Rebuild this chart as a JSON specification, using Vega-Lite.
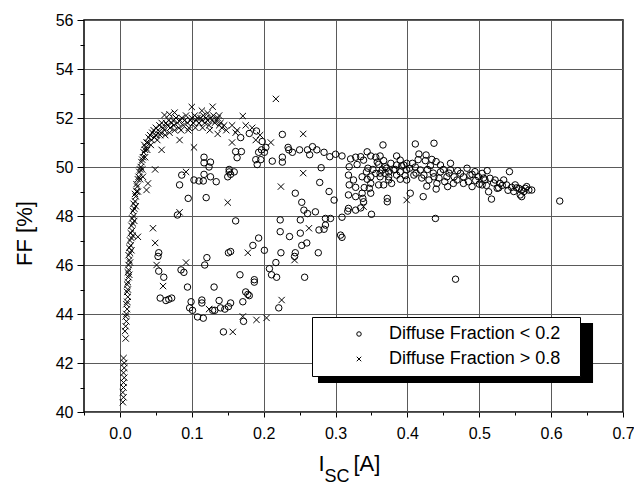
{
"$schema": "https://vega.github.io/schema/vega-lite/v6.json",
"width": 539, "height": 392,
"autosize": {"type": "none"},
"padding": {"left": 84, "top": 20, "right": 11, "bottom": 72},
"background": "white",
"config": {
  "view": {"stroke": "black", "strokeWidth": 1.5},
  "font": "Liberation Sans",
  "axis": {"labelFont": "Liberation Sans", "titleFont": "Liberation Sans", "labelColor": "black", "titleColor": "black", "tickColor": "black", "titleFontWeight": "normal"},
  "legend": {"strokeWidth": 1}
},
"datasets": {
"crosses": [
{"x":0.004,"y":40.4},{"x":0.005,"y":40.6},{"x":0.004,"y":40.8},{"x":0.005,"y":41.0},{"x":0.005,"y":41.2},{"x":0.006,"y":41.4},{"x":0.005,"y":41.6},{"x":0.006,"y":41.8},{"x":0.006,"y":42.0},{"x":0.005,"y":42.2},
{"x":0.008,"y":43.0},{"x":0.007,"y":43.3},{"x":0.008,"y":43.5},{"x":0.009,"y":43.7},{"x":0.008,"y":43.9},{"x":0.009,"y":44.0},{"x":0.010,"y":44.2},{"x":0.009,"y":44.4},{"x":0.010,"y":44.5},{"x":0.011,"y":44.7},
{"x":0.010,"y":44.9},{"x":0.011,"y":45.0},{"x":0.010,"y":45.2},{"x":0.011,"y":45.3},{"x":0.012,"y":45.5},{"x":0.011,"y":45.7},{"x":0.012,"y":45.8},{"x":0.012,"y":46.0},{"x":0.013,"y":46.2},{"x":0.012,"y":46.4},
{"x":0.014,"y":46.5},{"x":0.013,"y":46.7},{"x":0.015,"y":46.8},{"x":0.014,"y":47.0},{"x":0.016,"y":47.1},{"x":0.015,"y":47.3},{"x":0.017,"y":47.4},{"x":0.016,"y":47.6},{"x":0.018,"y":47.7},{"x":0.017,"y":47.9},
{"x":0.019,"y":48.0},{"x":0.018,"y":48.2},{"x":0.020,"y":48.3},{"x":0.019,"y":48.5},{"x":0.021,"y":48.6},{"x":0.022,"y":48.8},{"x":0.021,"y":48.9},{"x":0.023,"y":49.0},{"x":0.024,"y":49.2},{"x":0.023,"y":49.3},
{"x":0.025,"y":49.5},{"x":0.026,"y":49.6},{"x":0.027,"y":49.8},{"x":0.028,"y":49.9},{"x":0.029,"y":50.0},{"x":0.030,"y":50.2},{"x":0.031,"y":50.3},{"x":0.032,"y":50.4},{"x":0.033,"y":50.6},{"x":0.035,"y":50.7},
{"x":0.034,"y":50.9},{"x":0.037,"y":51.0},{"x":0.039,"y":51.0},{"x":0.036,"y":50.8},{"x":0.040,"y":51.2},{"x":0.042,"y":51.3},{"x":0.044,"y":51.1},{"x":0.045,"y":51.4},{"x":0.047,"y":51.5},{"x":0.050,"y":51.3},
{"x":0.050,"y":51.6},{"x":0.053,"y":51.5},{"x":0.055,"y":51.7},{"x":0.057,"y":51.4},{"x":0.058,"y":51.8},{"x":0.060,"y":51.6},{"x":0.062,"y":51.5},{"x":0.064,"y":51.8},{"x":0.066,"y":51.7},{"x":0.068,"y":51.9},
{"x":0.070,"y":51.6},{"x":0.072,"y":51.8},{"x":0.074,"y":51.9},{"x":0.075,"y":51.7},{"x":0.078,"y":52.0},{"x":0.080,"y":51.8},{"x":0.082,"y":51.6},{"x":0.084,"y":51.9},{"x":0.086,"y":52.0},{"x":0.088,"y":51.7},
{"x":0.090,"y":51.9},{"x":0.092,"y":52.1},{"x":0.094,"y":51.8},{"x":0.096,"y":51.6},{"x":0.098,"y":51.9},{"x":0.100,"y":52.0},{"x":0.102,"y":51.8},{"x":0.104,"y":52.1},{"x":0.106,"y":51.9},{"x":0.108,"y":52.0},
{"x":0.110,"y":51.8},{"x":0.112,"y":52.0},{"x":0.114,"y":51.9},{"x":0.116,"y":52.1},{"x":0.118,"y":51.8},{"x":0.120,"y":52.0},{"x":0.122,"y":51.9},{"x":0.124,"y":51.7},{"x":0.126,"y":52.0},{"x":0.128,"y":51.9},
{"x":0.130,"y":52.1},{"x":0.132,"y":51.8},{"x":0.134,"y":51.9},{"x":0.136,"y":52.0},{"x":0.138,"y":51.7},{"x":0.140,"y":51.8},{"x":0.142,"y":51.6},{"x":0.145,"y":51.7},{"x":0.148,"y":51.5},
{"x":0.013,"y":45.6},{"x":0.014,"y":46.1},{"x":0.016,"y":46.6},{"x":0.018,"y":47.2},{"x":0.020,"y":47.8},{"x":0.022,"y":48.4},{"x":0.025,"y":49.0},{"x":0.028,"y":49.5},{"x":0.031,"y":49.9},{"x":0.035,"y":50.4},
{"x":0.038,"y":50.7},{"x":0.043,"y":50.9},{"x":0.048,"y":51.2},{"x":0.052,"y":51.1},{"x":0.056,"y":51.3},{"x":0.063,"y":51.3},{"x":0.069,"y":51.4},{"x":0.076,"y":51.5},{"x":0.085,"y":51.5},{"x":0.095,"y":51.5},
{"x":0.105,"y":51.6},{"x":0.115,"y":51.6},{"x":0.125,"y":51.5},
{"x":0.062,"y":52.12},{"x":0.069,"y":52.15},{"x":0.076,"y":52.22},{"x":0.100,"y":52.45},{"x":0.114,"y":52.3},{"x":0.122,"y":52.2},{"x":0.129,"y":52.46},{"x":0.138,"y":52.1},{"x":0.171,"y":52.08},{"x":0.156,"y":51.7},
{"x":0.163,"y":51.5},{"x":0.161,"y":51.4},{"x":0.136,"y":51.35},{"x":0.156,"y":51.0},{"x":0.175,"y":51.7},{"x":0.184,"y":51.6},{"x":0.195,"y":51.3},{"x":0.189,"y":51.1},{"x":0.210,"y":51.0},{"x":0.255,"y":51.35},
{"x":0.217,"y":52.78},{"x":0.103,"y":50.8},{"x":0.092,"y":49.8},{"x":0.255,"y":49.75},{"x":0.224,"y":49.2},{"x":0.150,"y":48.55},{"x":0.049,"y":49.9},{"x":0.083,"y":51.1},{"x":0.058,"y":50.7},{"x":0.083,"y":48.15},
{"x":0.046,"y":47.5},{"x":0.049,"y":46.9},{"x":0.025,"y":47.15},{"x":0.037,"y":49.06},{"x":0.039,"y":49.33},{"x":0.032,"y":49.6},{"x":0.051,"y":46.0},{"x":0.060,"y":45.14},{"x":0.092,"y":46.1},{"x":0.124,"y":44.2},
{"x":0.157,"y":43.27},{"x":0.171,"y":43.9},{"x":0.178,"y":46.5},{"x":0.190,"y":43.76},{"x":0.204,"y":43.84},{"x":0.225,"y":44.57},{"x":0.243,"y":46.2},{"x":0.399,"y":48.65},{"x":0.263,"y":47.5},{"x":0.339,"y":48.38}
],
"circles": [
{"x":0.054,"y":46.5},{"x":0.053,"y":46.35},{"x":0.054,"y":45.75},{"x":0.061,"y":45.5},{"x":0.056,"y":44.65},{"x":0.064,"y":44.55},{"x":0.068,"y":44.6},{"x":0.072,"y":44.65},{"x":0.085,"y":45.8},{"x":0.089,"y":45.7},
{"x":0.094,"y":45.1},{"x":0.099,"y":44.5},{"x":0.097,"y":44.25},{"x":0.101,"y":44.15},{"x":0.108,"y":43.88},{"x":0.114,"y":44.57},{"x":0.114,"y":44.45},{"x":0.116,"y":43.83},{"x":0.118,"y":46.0},{"x":0.121,"y":46.3},
{"x":0.131,"y":45.1},{"x":0.129,"y":44.15},{"x":0.132,"y":44.15},{"x":0.138,"y":44.55},{"x":0.140,"y":44.25},{"x":0.144,"y":43.27},{"x":0.146,"y":44.2},{"x":0.151,"y":44.3},{"x":0.154,"y":44.45},{"x":0.151,"y":46.5},
{"x":0.154,"y":46.55},{"x":0.167,"y":45.6},{"x":0.171,"y":44.5},{"x":0.175,"y":44.9},{"x":0.178,"y":44.8},{"x":0.180,"y":44.75},{"x":0.172,"y":43.7},{"x":0.185,"y":46.8},{"x":0.187,"y":45.4},{"x":0.187,"y":45.3},
{"x":0.201,"y":46.6},{"x":0.208,"y":45.85},{"x":0.211,"y":45.6},{"x":0.217,"y":46.1},{"x":0.218,"y":45.5},{"x":0.221,"y":44.25},{"x":0.224,"y":46.5},{"x":0.244,"y":46.5},{"x":0.243,"y":46.35},{"x":0.253,"y":46.8},
{"x":0.257,"y":45.5},{"x":0.260,"y":46.9},{"x":0.276,"y":46.5},{"x":0.161,"y":47.8},{"x":0.223,"y":47.84},{"x":0.223,"y":47.36},{"x":0.236,"y":47.16},{"x":0.251,"y":47.3},{"x":0.193,"y":47.1},{"x":0.086,"y":49.67},
{"x":0.083,"y":49.27},{"x":0.095,"y":48.72},{"x":0.080,"y":48.04},
{"x":0.190,"y":51.47},{"x":0.180,"y":51.37},{"x":0.168,"y":51.2},{"x":0.226,"y":51.33},{"x":0.198,"y":51.04},{"x":0.203,"y":50.8},{"x":0.197,"y":50.7},{"x":0.193,"y":50.6},{"x":0.201,"y":50.6},{"x":0.189,"y":50.3},
{"x":0.196,"y":50.3},{"x":0.191,"y":50.1},{"x":0.161,"y":50.63},{"x":0.169,"y":50.63},{"x":0.163,"y":50.38},{"x":0.212,"y":50.24},{"x":0.226,"y":50.4},{"x":0.226,"y":50.2},{"x":0.234,"y":50.8},{"x":0.235,"y":50.7},
{"x":0.240,"y":50.6},{"x":0.250,"y":50.7},{"x":0.117,"y":50.4},{"x":0.126,"y":50.2},{"x":0.117,"y":50.17},{"x":0.124,"y":50.0},{"x":0.152,"y":49.9},{"x":0.152,"y":49.8},{"x":0.159,"y":49.8},{"x":0.150,"y":49.6},
{"x":0.154,"y":49.7},{"x":0.117,"y":49.7},{"x":0.126,"y":49.6},{"x":0.103,"y":49.47},{"x":0.110,"y":49.43},{"x":0.116,"y":49.43},{"x":0.134,"y":49.4},{"x":0.120,"y":48.75},{"x":0.244,"y":48.93},{"x":0.253,"y":48.56},
{"x":0.256,"y":48.24},
{"x":0.366,"y":50.9},{"x":0.411,"y":50.94},{"x":0.437,"y":50.97},{"x":0.268,"y":50.83},{"x":0.274,"y":50.7},{"x":0.261,"y":50.7},{"x":0.264,"y":50.5},{"x":0.284,"y":50.6},{"x":0.292,"y":50.42},{"x":0.300,"y":50.52},
{"x":0.309,"y":50.45},{"x":0.321,"y":50.33},{"x":0.328,"y":50.4},{"x":0.335,"y":50.42},{"x":0.339,"y":50.28},{"x":0.344,"y":50.62},{"x":0.349,"y":50.45},{"x":0.356,"y":50.4},{"x":0.362,"y":50.45},{"x":0.367,"y":50.26},
{"x":0.385,"y":50.45},{"x":0.390,"y":50.28},{"x":0.395,"y":50.08},{"x":0.416,"y":50.53},{"x":0.426,"y":50.49},{"x":0.425,"y":50.26},{"x":0.434,"y":50.31},{"x":0.440,"y":50.22},{"x":0.446,"y":50.08},{"x":0.460,"y":50.15},
{"x":0.407,"y":50.15},{"x":0.411,"y":50.0},{"x":0.399,"y":49.88},{"x":0.390,"y":49.8},{"x":0.381,"y":49.88},{"x":0.369,"y":49.74},{"x":0.374,"y":49.6},{"x":0.385,"y":49.67},{"x":0.390,"y":49.5},{"x":0.399,"y":49.47},
{"x":0.409,"y":49.67},{"x":0.418,"y":49.88},{"x":0.423,"y":49.67},{"x":0.430,"y":49.47},{"x":0.437,"y":49.6},{"x":0.446,"y":49.8},{"x":0.455,"y":49.6},{"x":0.464,"y":49.33},{"x":0.427,"y":49.22},{"x":0.441,"y":49.33},
{"x":0.360,"y":50.11},{"x":0.369,"y":50.01},{"x":0.374,"y":49.8},{"x":0.365,"y":49.88},{"x":0.385,"y":50.08},{"x":0.399,"y":50.15},{"x":0.362,"y":49.6},{"x":0.356,"y":49.74},{"x":0.344,"y":49.5},{"x":0.337,"y":49.6},
{"x":0.349,"y":49.6},{"x":0.360,"y":49.27},{"x":0.367,"y":49.27},{"x":0.374,"y":49.47},{"x":0.378,"y":49.33},{"x":0.349,"y":49.33},{"x":0.325,"y":49.47},{"x":0.318,"y":49.67},{"x":0.319,"y":49.27},{"x":0.328,"y":49.17},
{"x":0.340,"y":49.16},{"x":0.347,"y":49.13},{"x":0.349,"y":48.93},{"x":0.337,"y":48.93},{"x":0.328,"y":48.79},{"x":0.338,"y":48.72},{"x":0.339,"y":48.58},{"x":0.318,"y":48.86},{"x":0.318,"y":48.31},{"x":0.317,"y":48.2},
{"x":0.328,"y":48.24},{"x":0.335,"y":48.33},{"x":0.350,"y":48.07},{"x":0.372,"y":48.72},{"x":0.372,"y":48.58},{"x":0.404,"y":48.93},{"x":0.422,"y":48.79},{"x":0.439,"y":47.9},{"x":0.319,"y":50.01},{"x":0.343,"y":49.8},
{"x":0.280,"y":49.97},{"x":0.278,"y":49.37},{"x":0.291,"y":49.0},{"x":0.298,"y":48.65},{"x":0.309,"y":47.95},{"x":0.293,"y":47.9},{"x":0.286,"y":47.9},{"x":0.272,"y":48.17},{"x":0.261,"y":48.1},{"x":0.286,"y":47.63},
{"x":0.284,"y":47.46},{"x":0.277,"y":47.43},{"x":0.307,"y":47.22},{"x":0.309,"y":47.13},{"x":0.251,"y":47.84},
{"x":0.460,"y":49.88},{"x":0.474,"y":49.74},{"x":0.483,"y":49.95},{"x":0.487,"y":49.67},{"x":0.494,"y":49.81},{"x":0.499,"y":49.6},{"x":0.504,"y":49.74},{"x":0.511,"y":49.85},{"x":0.542,"y":49.81},{"x":0.508,"y":49.47},
{"x":0.515,"y":49.54},{"x":0.522,"y":49.47},{"x":0.529,"y":49.33},{"x":0.534,"y":49.47},{"x":0.538,"y":49.27},{"x":0.545,"y":49.17},{"x":0.550,"y":49.27},{"x":0.555,"y":49.13},{"x":0.559,"y":49.06},{"x":0.564,"y":49.13},
{"x":0.569,"y":49.06},{"x":0.573,"y":49.06},{"x":0.557,"y":48.86},{"x":0.559,"y":48.79},{"x":0.517,"y":48.69},{"x":0.513,"y":48.99},{"x":0.525,"y":49.13},{"x":0.504,"y":49.27},{"x":0.490,"y":49.2},{"x":0.478,"y":49.33},
{"x":0.469,"y":49.47},{"x":0.612,"y":48.61},{"x":0.467,"y":45.42},
{"x":0.330,"y":50.1},{"x":0.352,"y":49.9},{"x":0.358,"y":50.2},{"x":0.371,"y":49.95},{"x":0.377,"y":50.15},{"x":0.383,"y":49.9},{"x":0.392,"y":50.05},{"x":0.397,"y":49.65},{"x":0.403,"y":49.95},{"x":0.412,"y":49.75},
{"x":0.415,"y":50.3},{"x":0.420,"y":49.55},{"x":0.428,"y":49.9},{"x":0.432,"y":50.05},{"x":0.436,"y":49.75},{"x":0.444,"y":49.55},{"x":0.450,"y":49.9},{"x":0.452,"y":49.4},{"x":0.458,"y":49.75},{"x":0.465,"y":49.6},
{"x":0.470,"y":49.85},{"x":0.478,"y":49.6},{"x":0.485,"y":49.4},{"x":0.490,"y":49.7},{"x":0.495,"y":49.45},{"x":0.500,"y":49.3},{"x":0.506,"y":49.55},{"x":0.510,"y":49.25},{"x":0.520,"y":49.35},{"x":0.527,"y":49.15},
{"x":0.532,"y":49.25},{"x":0.540,"y":49.05},{"x":0.548,"y":49.0},{"x":0.552,"y":49.15},{"x":0.562,"y":49.0},{"x":0.566,"y":49.2},{"x":0.440,"y":49.1},{"x":0.456,"y":49.2},{"x":0.345,"y":49.95},{"x":0.362,"y":49.75}
]
},
"layer": [
  {
    "data": {"values": [{"part": "legend shadow"}]},
    "mark": {"type": "rect", "color": "black", "opacity": 1},
    "encoding": {
      "x": {"datum": 0.2756, "type": "quantitative", "scale": {"domain": [-0.05, 0.7], "nice": false, "zero": false},
            "axis": {"orient": "bottom", "values": [-0.05, 0.05, 0.15, 0.25, 0.35, 0.45, 0.55, 0.65], "labels": false, "grid": false, "domain": false, "tickSize": 3, "tickWidth": 1,
                     "title": "SC", "titleFontSize": 18, "titleX": 240, "titleY": 69, "titleAlign": "left", "titleBaseline": "alphabetic", "titleFontWeight": "normal"}},
      "x2": {"datum": 0.6583},
      "y": {"datum": 43.63, "type": "quantitative", "scale": {"domain": [40, 56], "nice": false, "zero": false},
            "axis": {"orient": "left", "values": [41, 43, 45, 47, 49, 51, 53, 55], "labels": false, "grid": false, "domain": false, "tickSize": 4, "tickWidth": 1,
                     "title": "[A]", "titleFontSize": 22, "titleAngle": 0, "titleX": 269, "titleY": 450, "titleAlign": "left", "titleBaseline": "alphabetic", "titleFontWeight": "normal"}},
      "y2": {"datum": 41.18}
    }
  },
  {
    "data": {"name": "circles"},
    "transform": [{"calculate": "'< 0.2'", "as": "fraction"}],
    "mark": {"type": "point", "filled": false, "size": 42, "strokeWidth": 1, "color": "black", "opacity": 1},
    "encoding": {
      "x": {"field": "x", "type": "quantitative", "scale": {"domain": [-0.05, 0.7], "nice": false, "zero": false},
            "axis": {"orient": "bottom", "values": [0, 0.1, 0.2, 0.3, 0.4, 0.5, 0.6, 0.7], "format": ".1f", "grid": true, "gridColor": "#5a5a5a", "gridWidth": 1, "gridOpacity": 1,
                     "domain": false, "tickSize": 5, "tickWidth": 1, "labelFontSize": 16, "labelPadding": 8, "labelFlush": false, "labelOverlap": false,
                     "title": "I", "titleFontSize": 22, "titleX": 234, "titleY": 58, "titleAlign": "left", "titleBaseline": "alphabetic", "titleFontWeight": "normal"}},
      "y": {"field": "y", "type": "quantitative", "scale": {"domain": [40, 56], "nice": false, "zero": false},
            "axis": {"orient": "left", "values": [40, 42, 44, 46, 48, 50, 52, 54, 56], "grid": true, "gridColor": "#5a5a5a", "gridWidth": 1, "gridOpacity": 1,
                     "domain": false, "tickSize": 7, "tickWidth": 1, "labelFontSize": 16, "labelPadding": 4, "labelFlush": false, "labelOverlap": false,
                     "title": "FF [%]", "titleFontSize": 22, "titleAngle": -90, "titleX": -60, "titleY": 213, "titleAlign": "center", "titleBaseline": "middle", "titleFontWeight": "normal"}},
      "shape": {"field": "fraction", "type": "nominal",
                "scale": {"domain": ["< 0.2", "> 0.8"], "range": ["circle", "M-1,-1L1,1M-1,1L1,-1"]},
                "legend": {"orient": "none", "legendX": 228, "legendY": 297, "title": "\u2003", "titleOrient": "right", "titleFontSize": 18, "titlePadding": 12,
                           "padding": 8, "strokeColor": "black", "fillColor": "white", "symbolSize": 20, "symbolStrokeColor": "black", "symbolStrokeWidth": 1,
                           "symbolFillColor": "transparent", "symbolOffset": 30, "labelOffset": 21, "labelFontSize": 18, "labelFont": "Liberation Sans", "labelLimit": 400,
                           "labelColor": "black", "rowPadding": 7, "labelExpr": "'Diffuse Fraction ' + datum.label", "cornerRadius": 0}}
    }
  },
  {
    "data": {"name": "crosses"},
    "transform": [{"calculate": "'> 0.8'", "as": "fraction"}],
    "mark": {"type": "point", "filled": false, "size": 40, "strokeWidth": 1, "color": "black", "opacity": 1},
    "encoding": {
      "x": {"field": "x", "type": "quantitative", "axis": null},
      "y": {"field": "y", "type": "quantitative", "axis": null},
      "shape": {"field": "fraction", "type": "nominal"}
    }
  }
],
"resolve": {"axis": {"x": "independent", "y": "independent"}}
}
